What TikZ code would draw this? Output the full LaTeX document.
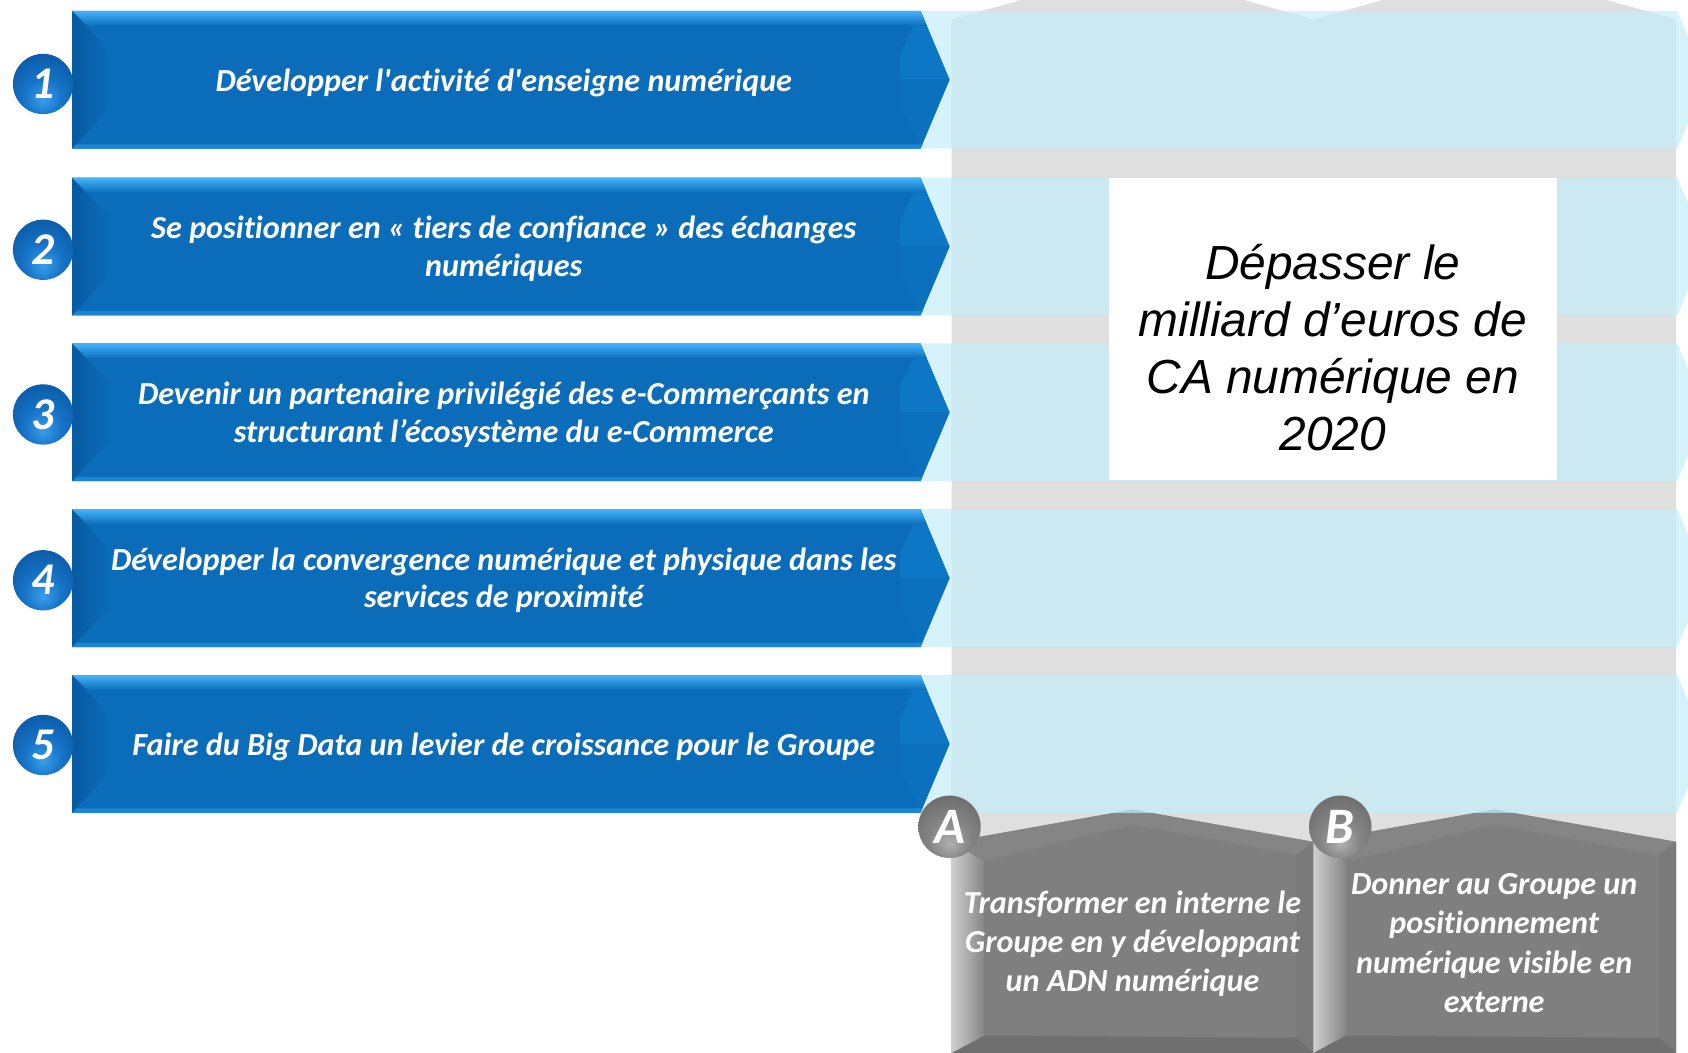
\documentclass[tikz,border=0pt]{standalone}
\usepackage{fontspec}
\setmainfont{Carlito}[Ligatures={TeXOff,CommonOff}]
\newfontfamily\arialfont{Liberation Sans}
\usetikzlibrary{calc}

\definecolor{arrowblue}{HTML}{0B6DBA}
\definecolor{arrowtop}{HTML}{45B3FA}
\definecolor{arrowleft}{HTML}{085AA2}
\definecolor{arrowfacetup}{HTML}{0D77C5}
\definecolor{arrowfacetlo}{HTML}{0B70BE}
\definecolor{arrowbottom}{HTML}{1C86D6}
\definecolor{bandblue}{HTML}{C4EDFA}
\definecolor{colgray}{HTML}{DFDFDF}
\definecolor{colldark}{HTML}{7F7F7F}
\definecolor{bevellight}{HTML}{CFCFCF}
\definecolor{bevelmid}{HTML}{868686}
\definecolor{bevelright}{HTML}{7A7A7A}
\definecolor{bevelbottom}{HTML}{6F6F6F}
\definecolor{topfacet}{HTML}{858585}

\definecolor{bhi}{HTML}{3A9DEB}
\definecolor{bmid}{HTML}{1673C6}
\definecolor{blo}{HTML}{0B5AA6}
\definecolor{bedge}{HTML}{084A8C}
\definecolor{ghi}{HTML}{B0B0B0}
\definecolor{gmid}{HTML}{858585}
\definecolor{glo}{HTML}{6C6C6C}
\definecolor{gedge}{HTML}{565656}

\pgfdeclareradialshading{blueball}{\pgfpoint{0bp}{-14bp}}{%
  color(0bp)=(bhi); color(16bp)=(bmid); color(34bp)=(blo);
  color(44bp)=(bedge); color(70bp)=(bedge)}
\pgfdeclareradialshading{grayball}{\pgfpoint{0bp}{-14bp}}{%
  color(0bp)=(ghi); color(16bp)=(gmid); color(34bp)=(glo);
  color(44bp)=(gedge); color(70bp)=(gedge)}

\tikzset{
  numball/.style={circle, inner sep=0pt, minimum size=1.12cm, shade, shading=blueball,
    text=white, font=\fontsize{24}{24}\selectfont\bfseries\itshape},
  letterball/.style={circle, inner sep=0pt, minimum size=1.16cm, shade, shading=grayball,
    text=white, font=\fontsize{27}{27}\selectfont\bfseries\itshape},
  arrowtext/.style={text=white, align=center, inner sep=0pt,
    font=\fontsize{17}{20}\selectfont\bfseries\itshape},
  pillartext/.style={text=white, align=center, inner sep=0pt,
    font=\fontsize{17}{20.7}\selectfont\bfseries\itshape},
  goaltext/.style={text=black, align=center, inner sep=0pt,
    font=\arialfont\fontsize{25.3}{30.2}\selectfont\itshape},
  band/.style={fill=bandblue, opacity=0.7},
}

\begin{document}
\begin{tikzpicture}[x=0.02cm,y=-0.02cm]
\useasboundingbox (0,0) rectangle (1568,978);
\clip (0,0) rectangle (1568,978);

% two upward pillars: light upper part
\fill[colgray] (884,18) -- (1052,-29) -- (1220,18) -- (1388,-29) -- (1557,18)
  -- (1557,990) -- (884,990) -- cycle;

% dark lower parts of the pillars
\fill[colldark] (884,782) -- (1052,752) -- (1220,782) -- (1388,752) -- (1557,782)
  -- (1557,990) -- (884,990) -- cycle;

% bevelled edges of the dark parts
\foreach \xl/\xm/\xr in {884/1052/1220, 1220/1388/1557}{
  \fill[topfacet] (\xl,782) -- (\xm,752) -- (\xr,782) -- (\xr-16,794) -- (\xm,766) -- (\xl+30,800) -- cycle;
  \fill[bevelright] (\xr-16,794) -- (\xr,782) -- (\xr,978) -- (\xr-16,964) -- cycle;
  \fill[bevelbottom] (\xl,978) -- (\xl+30,962) -- (\xr-16,964) -- (\xr,978) -- cycle;
  \shade[left color=bevellight, right color=bevelmid]
    (\xl,782) -- (\xl+30,800) -- (\xl+30,962) -- (\xl,978) -- cycle;
}

% translucent row bands running across the pillars
\foreach \t in {10,165,319,473,627}{
  \fill[band] (855,\t) -- (1558,\t) -- (1585,\t+64) -- (1558,\t+128) -- (855,\t+128) -- cycle;
}

% goal box
\fill[white] (1030,165) rectangle (1446,446);
\node[goaltext] (goal) at (1238,323)
  {Dépasser le\\milliard d’euros de\\CA numérique en\\2020};

% blue axis arrows
\foreach \t in {10,165,319,473,627}{
  \fill[arrowblue] (67,\t) -- (855,\t) -- (882,\t+64) -- (855,\t+128) -- (67,\t+128) -- cycle;
  \fill[arrowfacetup] (855,\t) -- (882,\t+64) -- (836,\t+64) -- (836,\t+40) -- cycle;
  \fill[arrowfacetlo] (836,\t+64) -- (882,\t+64) -- (855,\t+128) -- (836,\t+88) -- cycle;
  \shade[left color=arrowleft, right color=arrowblue]
    (67,\t) -- (104,\t+40) -- (104,\t+88) -- (67,\t+128) -- cycle;
  \shade[top color=arrowtop, bottom color=arrowblue]
    (67,\t) -- (855,\t) -- (861,\t+14) -- (81,\t+14) -- cycle;
  \fill[arrowbottom] (71,\t+124) -- (857,\t+124) -- (855,\t+128) -- (67,\t+128) -- cycle;
}

\node[arrowtext] (a1) at (468,77) {Développer l'activité d'enseigne numérique};
\node[arrowtext] (a2) at (468,231) {Se positionner en « tiers de confiance » des échanges\\numériques};
\node[arrowtext] (a3) at (468,385) {Devenir un partenaire privilégié des e-Commerçants en\\structurant l’écosystème du e-Commerce};
\node[arrowtext] (a4) at (468,539) {Développer la convergence numérique et physique dans les\\services de proximité};
\node[arrowtext] (a5) at (468,694) {Faire du Big Data un levier de croissance pour le Groupe};

% numbered balls
\node[numball] (n1) at (40,78) {1};
\node[numball] (n2) at (40,232) {2};
\node[numball] (n3) at (40,385) {3};
\node[numball] (n4) at (40,539) {4};
\node[numball] (n5) at (40,692) {5};

% pillar labels
\node[pillartext] (pa) at (1052,876.5) {Transformer en interne le\\Groupe en y développant\\un ADN numérique};
\node[pillartext] (pb) at (1388,876) {Donner au Groupe un\\positionnement\\numérique visible en\\externe};

\node[letterball] (la) at (882,768) {A};
\node[letterball] (lb) at (1245,768) {B};
\end{tikzpicture}
\end{document}
